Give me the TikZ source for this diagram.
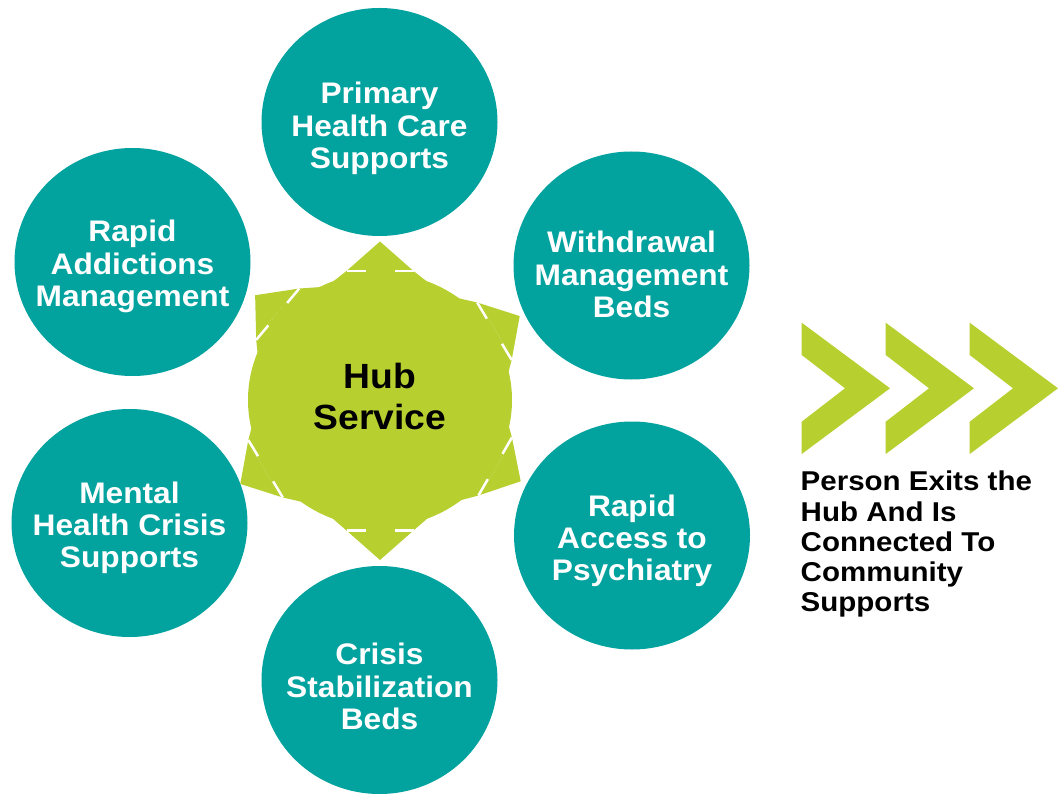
\documentclass[tikz,border=0pt]{standalone}
\usepackage{fontspec}
\setmainfont{Liberation Sans}
\newfontfamily\diafont[FakeStretch=1.065]{Liberation Sans}
\newfontfamily\exitfont[FakeStretch=1.085]{Liberation Sans}
\usetikzlibrary{shapes.geometric}
\definecolor{hubteal}{RGB}{2,162,159}
\definecolor{hublime}{RGB}{183,207,47}
\begin{document}
\begin{tikzpicture}[x=1pt,y=-1pt,
  spoke/.style={ellipse, fill=hubteal, draw=none, minimum width=236, minimum height=228, inner sep=0},
  spoketext/.style={text=white, align=center, inner sep=0,
    font=\diafont\bfseries\fontsize{29.75}{32.3}\selectfont},
  hubshape/.style={ellipse, fill=hublime, draw=none, minimum width=264, minimum height=254, inner sep=0},
  hubtext/.style={text=black, align=center, inner sep=0,
    font=\diafont\bfseries\fontsize{35}{40.6}\selectfont},
  exittext/.style={text=black, align=left, inner sep=0,
    font=\exitfont\bfseries\fontsize{27.2}{30.2}\selectfont},
  headtri/.style={fill=hublime, draw=none},
  slit/.style={draw=white, line width=2.5},
  chevron/.style={fill=hublime, draw=none}]
\useasboundingbox (0,0) rectangle (1062,794);

% spoke circles
\node[spoke] (c1) at (379.5,122) {};
\node[spoke] (c2) at (631.5,265.5) {};
\node[spoke] (c3) at (632,535.5) {};
\node[spoke] (c4) at (379.5,680) {};
\node[spoke] (c5) at (129.5,523) {};
\node[spoke] (c6) at (132.5,262) {};

\node[spoketext] (t1) at (379.5,128.4) {Primary\\Health Care\\Supports};
\node[spoketext] (t2) at (631.5,274.6) {Withdrawal\\Management\\Beds};
\node[spoketext] (t3) at (632,540.7) {Rapid\\Access to\\Psychiatry};
\node[spoketext] (t4) at (379.5,686.4) {Crisis\\Stabilization\\Beds};
\node[spoketext] (t5) at (129.5,528) {Mental\\Health Crisis\\Supports};
\node[spoketext] (t6) at (132.5,266.5) {Rapid\\Addictions\\Management};

% hub
\node[hubshape] (hub) at (380,400) {};
\foreach \a/\d in {90/129,31/133.5,140/133.5,211/133.5,330/133,270/130.5} {
  \begin{scope}[shift={(hub.center)}, rotate=\a]
    \fill[hublime] (0,0) -- (-24:126) -- (\d,-33.5) -- (\d,33.5) -- (24:126) -- cycle;
    \fill[headtri] (\d,-33.5) -- ({\d+29.5},0) -- (\d,33.5) -- cycle;
    \draw[slit] (\d,-33.5) -- (\d,33.5);
    \fill[hublime] (118,-14.5) rectangle ({\d+1.4},14.5);
  \end{scope}
}
\node[hubtext] (ht) at (380,396.5) {Hub\\Service};

% chevrons
\foreach \dx in {0,84,168} {
  \fill[chevron] ({801.7+\dx},322.7) -- ({890+\dx},388.3) -- ({801.7+\dx},454)
    -- ({801.7+\dx},421.7) -- ({845+\dx},388.3) -- ({801.7+\dx},355) -- cycle;
}
\node[exittext, anchor=north west] (exit) at (800.5,471)
  {Person Exits the\\Hub And Is\\Connected To\\Community\\Supports};
\end{tikzpicture}
\end{document}
